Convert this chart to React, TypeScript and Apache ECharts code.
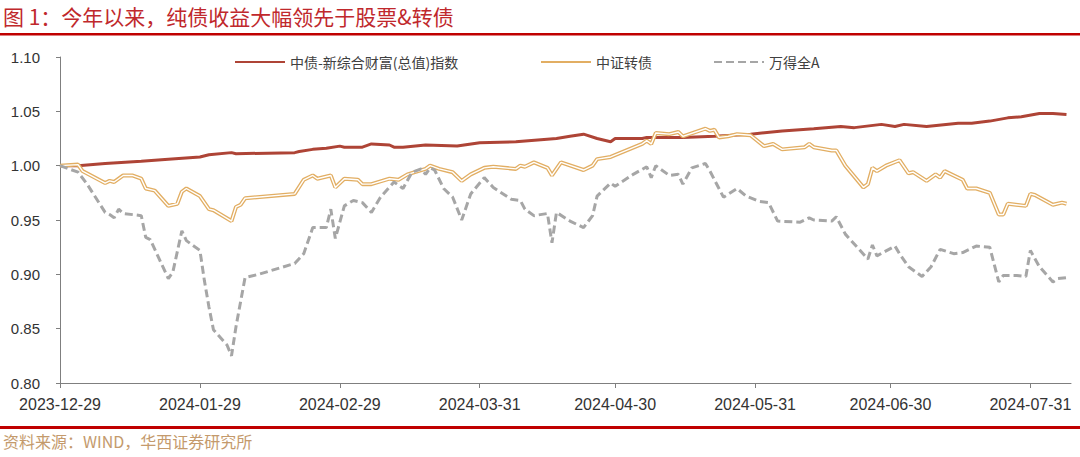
import { useEffect, useRef } from 'react';
import * as echarts from 'echarts';

const TITLE = '图 1：今年以来，纯债收益大幅领先于股票&转债';
const SOURCE = '资料来源：WIND，华西证券研究所';
const SERIES_NAMES = ['中债-新综合财富(总值)指数', '中证转债', '万得全A'];

// x axis: month-end ticks on a calendar scale
const X_TICKS = [
  '2023-12-29', '2024-01-29', '2024-02-29', '2024-03-31',
  '2024-04-30', '2024-05-31', '2024-06-30', '2024-07-31',
];
const X_MIN = '2023-12-29';
const X_MAX = '2024-08-09';

// 中债-新综合财富(总值)指数, normalised to 1 on 2023-12-29
const bondIndex: [string, number][] = [
  ['2023-12-29', 1.000], ['2024-01-02', 1.000], ['2024-01-08', 1.002], ['2024-01-16', 1.004],
  ['2024-01-22', 1.006], ['2024-01-29', 1.008], ['2024-01-31', 1.010], ['2024-02-05', 1.012],
  ['2024-02-06', 1.011], ['2024-02-19', 1.012], ['2024-02-20', 1.013], ['2024-02-23', 1.015],
  ['2024-02-26', 1.016], ['2024-02-29', 1.018], ['2024-03-01', 1.017], ['2024-03-05', 1.017],
  ['2024-03-07', 1.020], ['2024-03-11', 1.019], ['2024-03-12', 1.017], ['2024-03-14', 1.017],
  ['2024-03-19', 1.019], ['2024-03-26', 1.018], ['2024-03-31', 1.021], ['2024-04-08', 1.022],
  ['2024-04-17', 1.025], ['2024-04-20', 1.027], ['2024-04-23', 1.029], ['2024-04-26', 1.025],
  ['2024-04-29', 1.022], ['2024-04-30', 1.025], ['2024-05-06', 1.025], ['2024-05-07', 1.026],
  ['2024-05-15', 1.026], ['2024-05-22', 1.027], ['2024-05-30', 1.029], ['2024-06-06', 1.032],
  ['2024-06-13', 1.034], ['2024-06-19', 1.036], ['2024-06-22', 1.035], ['2024-06-28', 1.038],
  ['2024-07-01', 1.036], ['2024-07-03', 1.038], ['2024-07-08', 1.036], ['2024-07-15', 1.039],
  ['2024-07-18', 1.039], ['2024-07-22', 1.041], ['2024-07-26', 1.044], ['2024-07-29', 1.045],
  ['2024-08-02', 1.048], ['2024-08-05', 1.048], ['2024-08-08', 1.047],
];

// 中证转债
const convertible: [string, number][] = [
  ['2023-12-29', 1.000], ['2024-01-02', 1.001], ['2024-01-03', 0.995], ['2024-01-08', 0.984],
  ['2024-01-09', 0.986], ['2024-01-10', 0.985], ['2024-01-12', 0.991], ['2024-01-14', 0.991],
  ['2024-01-16', 0.988], ['2024-01-17', 0.979], ['2024-01-19', 0.977], ['2024-01-22', 0.963],
  ['2024-01-24', 0.965], ['2024-01-25', 0.976], ['2024-01-26', 0.979], ['2024-01-29', 0.972],
  ['2024-01-31', 0.960], ['2024-02-01', 0.959], ['2024-02-05', 0.949], ['2024-02-06', 0.962],
  ['2024-02-07', 0.964], ['2024-02-08', 0.970], ['2024-02-19', 0.974], ['2024-02-21', 0.987],
  ['2024-02-23', 0.991], ['2024-02-24', 0.988], ['2024-02-27', 0.991], ['2024-02-28', 0.980],
  ['2024-03-01', 0.988], ['2024-03-04', 0.987], ['2024-03-05', 0.983], ['2024-03-07', 0.983],
  ['2024-03-11', 0.988], ['2024-03-13', 0.987], ['2024-03-15', 0.992], ['2024-03-19', 0.997],
  ['2024-03-20', 1.000], ['2024-03-22', 0.997], ['2024-03-25', 0.994], ['2024-03-27', 0.986],
  ['2024-03-29', 0.992], ['2024-04-01', 0.998], ['2024-04-03', 0.999], ['2024-04-08', 0.997],
  ['2024-04-09', 1.000], ['2024-04-10', 0.999], ['2024-04-12', 1.003], ['2024-04-15', 0.998],
  ['2024-04-16', 0.991], ['2024-04-18', 1.003], ['2024-04-23', 0.996], ['2024-04-25', 1.000],
  ['2024-04-26', 1.006], ['2024-04-29', 1.008], ['2024-05-06', 1.020], ['2024-05-07', 1.023],
  ['2024-05-08', 1.020], ['2024-05-09', 1.030], ['2024-05-12', 1.029], ['2024-05-14', 1.031],
  ['2024-05-15', 1.027], ['2024-05-20', 1.034], ['2024-05-21', 1.032], ['2024-05-22', 1.033],
  ['2024-05-23', 1.026], ['2024-05-25', 1.027], ['2024-05-27', 1.029], ['2024-05-30', 1.028],
  ['2024-06-02', 1.018], ['2024-06-04', 1.020], ['2024-06-06', 1.015], ['2024-06-11', 1.017],
  ['2024-06-12', 1.020], ['2024-06-13', 1.017], ['2024-06-17', 1.014], ['2024-06-18', 1.014],
  ['2024-06-20', 1.000], ['2024-06-24', 0.980], ['2024-06-25', 0.983], ['2024-06-26', 0.998],
  ['2024-06-27', 0.995], ['2024-06-29', 1.000], ['2024-07-02', 1.005], ['2024-07-04', 0.993],
  ['2024-07-05', 0.994], ['2024-07-08', 0.986], ['2024-07-10', 0.992], ['2024-07-11', 0.989],
  ['2024-07-12', 0.995], ['2024-07-16', 0.987], ['2024-07-17', 0.979], ['2024-07-19', 0.979],
  ['2024-07-22', 0.975], ['2024-07-24', 0.955], ['2024-07-25', 0.955], ['2024-07-26', 0.965],
  ['2024-07-30', 0.963], ['2024-07-31', 0.974], ['2024-08-01', 0.973], ['2024-08-05', 0.964],
  ['2024-08-07', 0.966], ['2024-08-08', 0.965],
];

// 万得全A
const windAllA: [string, number][] = [
  ['2023-12-29', 1.000], ['2024-01-02', 0.994], ['2024-01-04', 0.983], ['2024-01-08', 0.957],
  ['2024-01-09', 0.955], ['2024-01-10', 0.952], ['2024-01-11', 0.960], ['2024-01-12', 0.956],
  ['2024-01-16', 0.954], ['2024-01-17', 0.934], ['2024-01-18', 0.932], ['2024-01-22', 0.896],
  ['2024-01-23', 0.902], ['2024-01-25', 0.940], ['2024-01-26', 0.931], ['2024-01-29', 0.922],
  ['2024-01-30', 0.894], ['2024-01-31', 0.870], ['2024-02-01', 0.849], ['2024-02-04', 0.835],
  ['2024-02-05', 0.825], ['2024-02-06', 0.852], ['2024-02-08', 0.897], ['2024-02-11', 0.900],
  ['2024-02-19', 0.910], ['2024-02-21', 0.919], ['2024-02-23', 0.943], ['2024-02-26', 0.943],
  ['2024-02-27', 0.960], ['2024-02-28', 0.933], ['2024-03-01', 0.963], ['2024-03-03', 0.968],
  ['2024-03-05', 0.966], ['2024-03-07', 0.957], ['2024-03-09', 0.971], ['2024-03-12', 0.985],
  ['2024-03-14', 0.979], ['2024-03-16', 0.994], ['2024-03-18', 0.997], ['2024-03-19', 0.992],
  ['2024-03-20', 0.998], ['2024-03-21', 0.996], ['2024-03-23', 0.979], ['2024-03-25', 0.971],
  ['2024-03-27', 0.950], ['2024-03-29', 0.974], ['2024-04-01', 0.989], ['2024-04-03', 0.980],
  ['2024-04-07', 0.969], ['2024-04-09', 0.968], ['2024-04-10', 0.960], ['2024-04-12', 0.954],
  ['2024-04-15', 0.956], ['2024-04-16', 0.929], ['2024-04-17', 0.957], ['2024-04-20', 0.949],
  ['2024-04-23', 0.943], ['2024-04-25', 0.954], ['2024-04-26', 0.972], ['2024-04-29', 0.984],
  ['2024-04-30', 0.981], ['2024-05-04', 0.992], ['2024-05-07', 0.999], ['2024-05-08', 0.989],
  ['2024-05-09', 1.000], ['2024-05-12', 0.991], ['2024-05-14', 0.992], ['2024-05-15', 0.983],
  ['2024-05-17', 0.998], ['2024-05-20', 1.002], ['2024-05-21', 0.995], ['2024-05-24', 0.971],
  ['2024-05-27', 0.979], ['2024-05-29', 0.972], ['2024-06-01', 0.967], ['2024-06-03', 0.966],
  ['2024-06-05', 0.949], ['2024-06-10', 0.948], ['2024-06-12', 0.952], ['2024-06-13', 0.950],
  ['2024-06-17', 0.949], ['2024-06-18', 0.953], ['2024-06-20', 0.937], ['2024-06-25', 0.914],
  ['2024-06-26', 0.927], ['2024-06-27', 0.917], ['2024-07-01', 0.926], ['2024-07-02', 0.919],
  ['2024-07-04', 0.907], ['2024-07-07', 0.898], ['2024-07-09', 0.907], ['2024-07-11', 0.923],
  ['2024-07-14', 0.919], ['2024-07-16', 0.920], ['2024-07-19', 0.926], ['2024-07-22', 0.925],
  ['2024-07-24', 0.893], ['2024-07-25', 0.899], ['2024-07-28', 0.899], ['2024-07-30', 0.898],
  ['2024-07-31', 0.922], ['2024-08-02', 0.907], ['2024-08-05', 0.893], ['2024-08-06', 0.896],
  ['2024-08-08', 0.897],
];

const CJK = 'Noto Sans CJK SC';
const LATIN = 'Liberation Sans';

// dates go onto a plain value axis as UTC day timestamps
const ts = (s: string) => {
  const [y, m, d] = s.split('-').map(Number);
  return Date.UTC(y, m - 1, d);
};
const pad = (n: number) => (n < 10 ? '0' + n : '' + n);
const fmtDate = (v: number) => {
  const d = new Date(v);
  return `${d.getUTCFullYear()}-${pad(d.getUTCMonth() + 1)}-${pad(d.getUTCDate())}`;
};
const toXY = (rows: [string, number][]) => rows.map(([d, v]) => [ts(d), v]);

// one legend per item so each can sit where the reference has it;
// itemStyle opacity 0 hides the marker dot that line legends draw
function legendAt(left: number, name: string) {
  return {
    left,
    top: 50,
    data: [name],
    itemWidth: 50,
    itemHeight: 14,
    itemGap: 0,
    itemStyle: { opacity: 0 },
    textStyle: { fontSize: 14, color: '#404040', fontFamily: CJK },
  };
}

export default function App() {
  const ref = useRef<HTMLDivElement | null>(null);

  useEffect(() => {
    if (!ref.current) return;
    const chart = echarts.init(ref.current, null, { renderer: 'svg' });
    const tickValues = X_TICKS.map(ts);
    const cbData = toXY(convertible);

    chart.setOption({
      animation: false,
      backgroundColor: '#fff',
      title: {
        text: TITLE,
        left: 3,
        top: 4,
        padding: 0,
        textStyle: { fontSize: 21, fontWeight: 'normal', color: '#C0282C', fontFamily: CJK, lineHeight: 24 },
      },
      graphic: [
        { type: 'rect', left: 0, top: 33, shape: { width: 1080, height: 2.5 }, style: { fill: '#C00000' } },
        { type: 'rect', left: 0, top: 426, shape: { width: 1080, height: 3 }, style: { fill: '#C00000' } },
        {
          type: 'text',
          left: 3,
          top: 433,
          style: { text: SOURCE, fontSize: 16, fill: '#C49A6C', fontFamily: CJK },
        },
      ],
      legend: [
        legendAt(229, SERIES_NAMES[0]),
        legendAt(535, SERIES_NAMES[1]),
        legendAt(708, SERIES_NAMES[2]),
      ],
      grid: { left: 60, right: 9, top: 57, bottom: 74 },
      xAxis: {
        type: 'value',
        min: ts(X_MIN),
        max: ts(X_MAX),
        axisLine: { lineStyle: { color: '#7F7F7F', width: 1 } },
        axisTick: { show: true, customValues: tickValues, length: 5, lineStyle: { color: '#7F7F7F' } },
        axisLabel: {
          customValues: tickValues,
          formatter: (v: number) => fmtDate(v),
          fontSize: 16,
          color: '#333',
          margin: 13,
          fontFamily: LATIN,
        },
        splitLine: { show: false },
      },
      yAxis: {
        type: 'value',
        min: 0.8,
        max: 1.1,
        interval: 0.05,
        axisLine: { show: true, lineStyle: { color: '#7F7F7F', width: 1 } },
        axisTick: { show: true, length: 4, lineStyle: { color: '#7F7F7F' } },
        axisLabel: {
          formatter: (v: number) => v.toFixed(2),
          fontSize: 15,
          color: '#333',
          margin: 20,
          fontFamily: LATIN,
        },
        splitLine: { show: false },
      },
      series: [
        {
          name: SERIES_NAMES[0],
          type: 'line',
          symbol: 'none',
          data: toXY(bondIndex),
          lineStyle: { color: '#AE4436', width: 3 },
          itemStyle: { color: '#AE4436' },
        },
        {
          name: SERIES_NAMES[1],
          type: 'line',
          symbol: 'none',
          data: cbData,
          lineStyle: { color: '#E2AE63', width: 4 },
          itemStyle: { color: '#E2AE63' },
        },
        {
          // white core that turns the convertible line into a double line
          name: 'cb-core',
          type: 'line',
          symbol: 'none',
          silent: true,
          data: cbData,
          lineStyle: { color: '#fff', width: 1.4 },
        },
        {
          name: SERIES_NAMES[2],
          type: 'line',
          symbol: 'none',
          data: toXY(windAllA),
          lineStyle: { color: '#A6A6A6', width: 3, type: [8, 4] },
          itemStyle: { color: '#A6A6A6' },
        },
      ],
    });

    return () => chart.dispose();
  }, []);

  return (
    <div
      ref={ref}
      style={{ position: 'absolute', left: 0, top: 0, width: 1080, height: 457, background: '#fff' }}
    />
  );
}
